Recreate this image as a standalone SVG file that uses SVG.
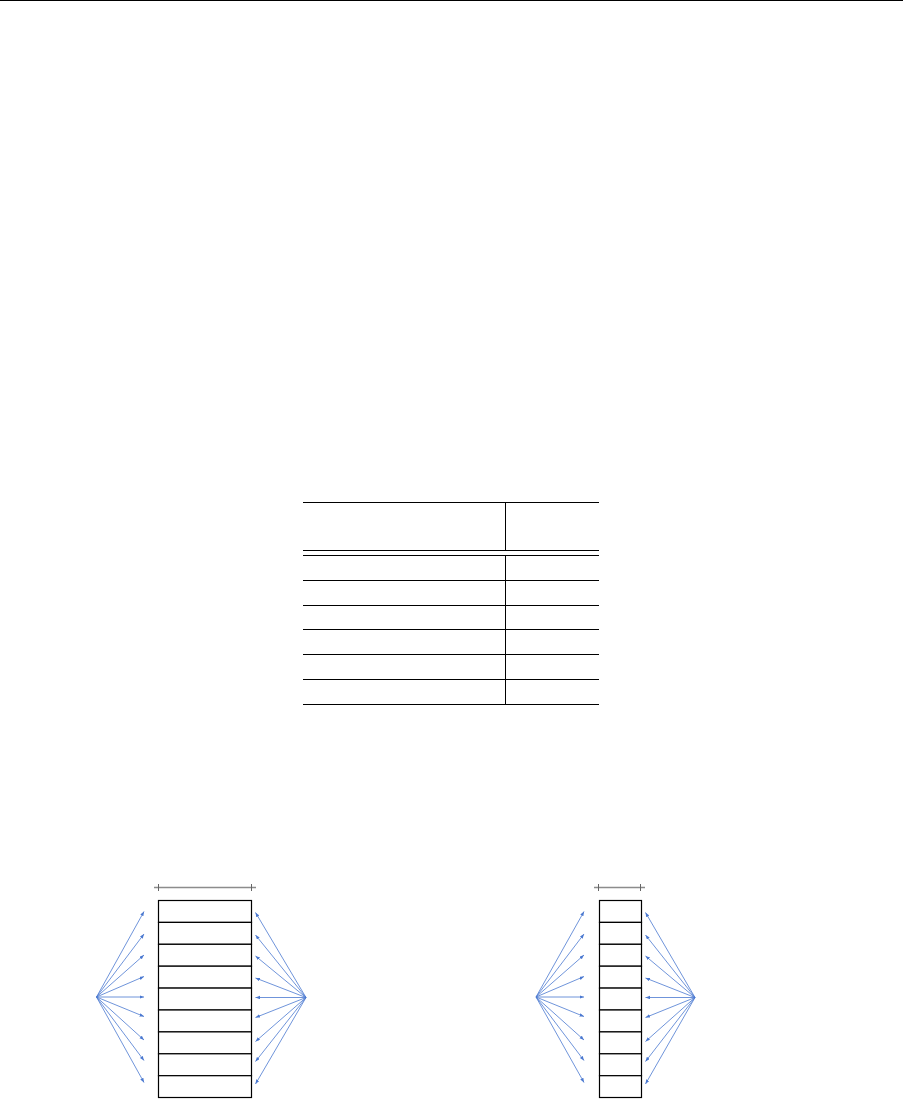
<svg xmlns="http://www.w3.org/2000/svg" width="903" height="1106" viewBox="0 0 903 1106">
<style>
.rule{stroke:#000;stroke-width:1;fill:none}
.box{fill:#fff;stroke:#000;stroke-width:1.2}
.scale{stroke:#8c8c8c;stroke-width:1.6;fill:none}
.tick{stroke:#666;stroke-width:1;fill:none}
.ray{stroke:#4a78d0;stroke-width:0.8;fill:none;marker-end:url(#ah)}
</style>
<defs>
<marker id="ah" markerUnits="userSpaceOnUse" markerWidth="6" markerHeight="5" refX="4.5" refY="1.75" orient="auto">
<path d="M0,0 L4.5,1.75 L0,3.5 z" fill="#4a78d0"/>
</marker>
</defs>
<line class="rule" x1="0" y1="0.5" x2="903" y2="0.5"/>
<g id="table">
<line class="rule" x1="303" y1="502.5" x2="599" y2="502.5"/>
<line class="rule" x1="303" y1="550.5" x2="599" y2="550.5"/>
<line class="rule" x1="303" y1="555.5" x2="599" y2="555.5"/>
<line class="rule" x1="303" y1="580.5" x2="599" y2="580.5"/>
<line class="rule" x1="303" y1="605.5" x2="599" y2="605.5"/>
<line class="rule" x1="303" y1="629.5" x2="599" y2="629.5"/>
<line class="rule" x1="303" y1="654.5" x2="599" y2="654.5"/>
<line class="rule" x1="303" y1="679.5" x2="599" y2="679.5"/>
<line class="rule" x1="303" y1="704.5" x2="599" y2="704.5"/>
<line class="rule" x1="505.5" y1="502" x2="505.5" y2="550"/>
<line class="rule" x1="505.5" y1="556" x2="505.5" y2="704"/>
</g>
<g id="left-array">
<path class="scale" d="M154,887.5 H256"/>
<path class="tick" d="M158.5,884 V891 M251.5,884 V891"/>
<rect class="box" x="158.5" y="900.5" width="93" height="21.9"/>
<rect class="box" x="158.5" y="922.4" width="93" height="21.9"/>
<rect class="box" x="158.5" y="944.3" width="93" height="21.9"/>
<rect class="box" x="158.5" y="966.2" width="93" height="21.9"/>
<rect class="box" x="158.5" y="988.1" width="93" height="21.9"/>
<rect class="box" x="158.5" y="1010" width="93" height="21.9"/>
<rect class="box" x="158.5" y="1031.9" width="93" height="21.9"/>
<rect class="box" x="158.5" y="1053.8" width="93" height="21.9"/>
<rect class="box" x="158.5" y="1075.7" width="93" height="21.8"/>
</g>
<g id="right-array">
<path class="scale" d="M594,887.5 H645"/>
<path class="tick" d="M598.5,884 V891 M640.5,884 V891"/>
<rect class="box" x="599.5" y="900.5" width="42" height="21.9"/>
<rect class="box" x="599.5" y="922.4" width="42" height="21.9"/>
<rect class="box" x="599.5" y="944.3" width="42" height="21.9"/>
<rect class="box" x="599.5" y="966.2" width="42" height="21.9"/>
<rect class="box" x="599.5" y="988.1" width="42" height="21.9"/>
<rect class="box" x="599.5" y="1010" width="42" height="21.9"/>
<rect class="box" x="599.5" y="1031.9" width="42" height="21.9"/>
<rect class="box" x="599.5" y="1053.8" width="42" height="21.9"/>
<rect class="box" x="599.5" y="1075.7" width="42" height="21.8"/>
</g>
<g id="connectors">
<g id="fan-left-1">
<line class="ray" x1="96.5" y1="997" x2="144" y2="911.5"/>
<line class="ray" x1="96.5" y1="997" x2="144" y2="934"/>
<line class="ray" x1="96.5" y1="997" x2="144" y2="955"/>
<line class="ray" x1="96.5" y1="997" x2="144" y2="976.5"/>
<line class="ray" x1="96.5" y1="997" x2="144" y2="997"/>
<line class="ray" x1="96.5" y1="997" x2="144" y2="1016.5"/>
<line class="ray" x1="96.5" y1="997" x2="144" y2="1040"/>
<line class="ray" x1="96.5" y1="997" x2="144" y2="1060.5"/>
<line class="ray" x1="96.5" y1="997" x2="144" y2="1082.5"/>
</g>
<g id="fan-right-1">
<line class="ray" x1="306" y1="997.5" x2="255.5" y2="912.5"/>
<line class="ray" x1="306" y1="997.5" x2="255.5" y2="935"/>
<line class="ray" x1="306" y1="997.5" x2="255.5" y2="956"/>
<line class="ray" x1="306" y1="997.5" x2="255.5" y2="978"/>
<line class="ray" x1="306" y1="997.5" x2="255.5" y2="997.5"/>
<line class="ray" x1="306" y1="997.5" x2="255.5" y2="1017.5"/>
<line class="ray" x1="306" y1="997.5" x2="255.5" y2="1041.5"/>
<line class="ray" x1="306" y1="997.5" x2="255.5" y2="1061.5"/>
<line class="ray" x1="306" y1="997.5" x2="255.5" y2="1084"/>
</g>
<g id="fan-left-2">
<line class="ray" x1="536" y1="997" x2="584" y2="911.5"/>
<line class="ray" x1="536" y1="997" x2="584" y2="934"/>
<line class="ray" x1="536" y1="997" x2="584" y2="955"/>
<line class="ray" x1="536" y1="997" x2="584" y2="976.5"/>
<line class="ray" x1="536" y1="997" x2="584" y2="997"/>
<line class="ray" x1="536" y1="997" x2="584" y2="1016.5"/>
<line class="ray" x1="536" y1="997" x2="584" y2="1040"/>
<line class="ray" x1="536" y1="997" x2="584" y2="1060.5"/>
<line class="ray" x1="536" y1="997" x2="584" y2="1082.5"/>
</g>
<g id="fan-right-2">
<line class="ray" x1="695" y1="997.5" x2="645.5" y2="912.5"/>
<line class="ray" x1="695" y1="997.5" x2="645.5" y2="935"/>
<line class="ray" x1="695" y1="997.5" x2="645.5" y2="956"/>
<line class="ray" x1="695" y1="997.5" x2="645.5" y2="978"/>
<line class="ray" x1="695" y1="997.5" x2="645.5" y2="997.5"/>
<line class="ray" x1="695" y1="997.5" x2="645.5" y2="1017.5"/>
<line class="ray" x1="695" y1="997.5" x2="645.5" y2="1041.5"/>
<line class="ray" x1="695" y1="997.5" x2="645.5" y2="1061.5"/>
<line class="ray" x1="695" y1="997.5" x2="645.5" y2="1084"/>
</g>
</g>
</svg>
